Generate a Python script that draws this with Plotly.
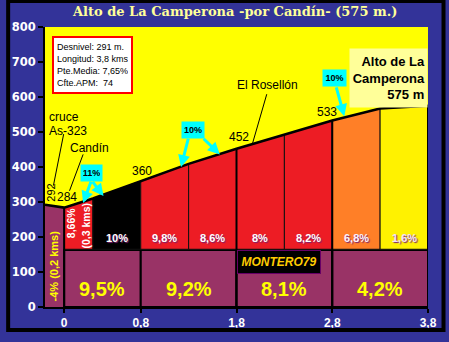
import plotly.graph_objects as go

# ---- data ----
km = [0, 0.3, 0.8, 1.3, 1.8, 2.3, 2.8, 3.3, 3.8]
elev = [284, 310, 360, 409, 452, 492, 533, 567, 575]
seg_pct = ["8,66%", "10%", "9,8%", "8,6%", "8%", "8,2%", "6,8%", "1,6%"]
seg_colors = ["#ED1C24", "#000000", "#ED1C24", "#ED1C24", "#ED1C24", "#ED1C24", "#FF7F27", "#FFF200"]
seg_text_colors = ["#FFFFFF", "#FFFFFF", "#FFFFFF", "#FFFFFF", "#FFFFFF", "#FFFFFF", "#FBF4FF", "#F0E0FF"]
start_km = [-0.2, -0.1, 0]
start_elev = [292, 287, 284]
km_marks = [0, 0.8, 1.8, 2.8, 3.8]
km_labels = ["0", "0,8", "1,8", "2,8", "3,8"]
km_pct = ["9,5%", "9,2%", "8,1%", "4,2%"]
base = 165

PURPLE = "#993366"
BLUE = "#333399"
ARIAL = "Liberation Sans, Arial"

fig = go.Figure()

# left segment (-0.2 .. 0)
fig.add_trace(go.Scatter(x=start_km + [0, -0.2], y=start_elev + [0, 0], fill="toself",
                         fillcolor=PURPLE, line=dict(width=0), mode="lines", hoverinfo="skip"))

# purple kilometre bands
for i in range(len(km_marks) - 1):
    a, b = km_marks[i], km_marks[i + 1]
    fig.add_trace(go.Scatter(x=[a, a, b, b, a], y=[0, base - 2, base - 2, 0, 0], fill="toself",
                             fillcolor=PURPLE, line=dict(color="black", width=2),
                             mode="lines", hoverinfo="skip"))

# coloured gradient segments
for i in range(len(km) - 1):
    x0, x1 = km[i], km[i + 1]
    fig.add_trace(go.Scatter(x=[x0, x0, x1, x1, x0], y=[base, elev[i], elev[i + 1], base, base],
                             fill="toself", fillcolor=seg_colors[i],
                             line=dict(color="#111111", width=1), mode="lines", hoverinfo="skip"))

# thick separators
for xv, top in [(0, 284), (1.8, 452), (2.8, 533), (3.8, 575)]:
    fig.add_trace(go.Scatter(x=[xv, xv], y=[0, top], mode="lines",
                             line=dict(color="black", width=2), hoverinfo="skip"))

# profile line
fig.add_trace(go.Scatter(x=start_km + km[1:], y=start_elev + elev[1:], mode="lines",
                         line=dict(color="black", width=2.5), hoverinfo="skip"))

ann = []
# segment percentages
for i in range(1, len(km) - 1):
    ann.append(dict(x=(km[i] + km[i + 1]) / 2, y=198, text="<b>" + seg_pct[i] + "</b>",
                    showarrow=False,
                    font=dict(family=ARIAL, size=11, color=seg_text_colors[i],
                              shadow="1px 1px 1px #7A1F6E")))
# first segment vertical text
ann.append(dict(x=0.073, y=240, text="<b>" + seg_pct[0] + "</b>", textangle=-90, showarrow=False,
                font=dict(family=ARIAL, size=10.5, color="white")))
ann.append(dict(x=0.225, y=232, text="<b>(0,3 kms)</b>", textangle=-90, showarrow=False,
                font=dict(family=ARIAL, size=10.5, color="white")))
ann.append(dict(x=-0.109, y=118, text="<b>-4% (0,2 kms)</b>", textangle=-90, showarrow=False,
                font=dict(family=ARIAL, size=11, color="#FFFF00")))

# big km percentages
for i in range(len(km_pct)):
    ann.append(dict(x=(km_marks[i] + km_marks[i + 1]) / 2, y=52, text="<b>" + km_pct[i] + "</b>",
                    showarrow=False, font=dict(family=ARIAL, size=20, color="#FFFF00")))

# elevation labels / place names
lab = lambda x, y, t, size=12, **kw: dict(x=x, y=y, text=t, showarrow=False,
                                          font=dict(family=ARIAL, size=size, color="black"), **kw)
ann += [
    lab(-0.18, 544, "cruce", xanchor="left"),
    lab(-0.18, 503, "As-323", xanchor="left"),
    lab(0.043, 454, "Candín", xanchor="left"),
    lab(-0.146, 327, "292", size=11, textangle=-90),
    lab(0.028, 315, "284"),
    lab(0.808, 389, "360"),
    lab(1.823, 485, "452"),
    lab(2.744, 558, "533"),
    lab(2.119, 634, "El Rosellón"),
]

# cyan boxes
cyan_boxes = [(0.289, 384, "11%", 17), (1.347, 506, "10%", 18), (2.825, 654, "10%", 19)]
for x, y, t, w in cyan_boxes:
    ann.append(dict(x=x, y=y, text="<b>" + t + "</b>", showarrow=False, bgcolor="#00FFFF",
                    width=w, height=12, borderpad=2,
                    font=dict(family=ARIAL, size=9, color="black")))

# cyan arrows (head, tail)
arrows = [((0.198, 297), (0.286, 362)), ((0.411, 317), (0.286, 362)),
          ((1.221, 400), (1.30, 485)), ((1.626, 436), (1.441, 485)),
          ((2.926, 545), (2.838, 632))]
for (hx, hy), (tx, ty) in arrows:
    ann.append(dict(x=hx, y=hy, ax=tx, ay=ty, axref="x", ayref="y", text="", showarrow=True,
                    arrowcolor="#00FFFF", arrowwidth=3, arrowhead=2, arrowsize=0.8))

# info box
ann.append(dict(x=-0.122, y=773, xanchor="left", yanchor="top", align="left", showarrow=False,
                text="Desnivel: 291 m.<br>Longitud: 3,8 kms<br>Pte.Media: 7,65%<br>Cfte.APM:  74",
                bgcolor="white", bordercolor="#FF0000", borderwidth=2, borderpad=3,
                width=71, height=48, font=dict(family=ARIAL, size=9, color="black")))
# summit box
ann.append(dict(x=3.8, y=740, xanchor="right", yanchor="top", align="right", showarrow=False,
                text="<b>Alto de La<br>Camperona<br>575 m</b>",
                bgcolor="#FFFF99", borderpad=2, width=73, height=54,
                font=dict(family=ARIAL, size=13, color="black")))
# author box
ann.append(dict(x=2.24, y=129, showarrow=False, text="<b><i>MONTERO79</i></b>",
                bgcolor="black", bordercolor="#660066", borderwidth=1, borderpad=2,
                width=78, height=18, font=dict(family=ARIAL, size=12, color="#FFCC00")))
# title
ann.append(dict(xref="paper", yref="paper", x=0.495, y=1 + 6 / 291, yanchor="bottom",
                showarrow=False, text="<b>Alto de La Camperona -por Candín- (575 m.)</b>",
                font=dict(family="DejaVu Serif", size=13, color="#FFFF99")))

shapes = [
    dict(type="line", x0=-0.005, y0=494, x1=-0.112, y1=347, line=dict(color="black", width=1)),
    dict(type="line", x0=0.198, y0=436, x1=0.056, y1=332, line=dict(color="black", width=1)),
    dict(type="line", x0=2.116, y0=608, x1=1.964, y1=464, line=dict(color="black", width=1)),
    dict(type="rect", xref="paper", yref="paper", x0=-38 / 395, x1=1 + 16 / 395,
         y0=-24 / 291, y1=1 + 27 / 291, line=dict(color="black", width=4)),
]

fig.update_layout(
    width=449, height=342, margin=dict(l=38, r=16, t=27, b=24),
    paper_bgcolor=BLUE, plot_bgcolor="#FFFF00", showlegend=False,
    annotations=ann, shapes=shapes,
    xaxis=dict(range=[-0.2, 3.8], tickvals=km_marks, ticktext=["<b>" + t + "</b>" for t in km_labels],
               showgrid=False, zeroline=False, showline=True, linecolor="black", linewidth=2,
               ticks="outside", ticklen=4, tickcolor="black", tickwidth=1.5,
               tickfont=dict(family=ARIAL, size=12, color="white")),
    yaxis=dict(range=[0, 800], dtick=100, showgrid=False, zeroline=False, showline=True,
               linecolor="black", linewidth=2, ticks="outside", ticklen=5, tickcolor="black",
               tickwidth=1.5, tickfont=dict(family="DejaVu Sans", size=11.5, color="white", weight="bold")),
)

fig.write_html("out.html")
